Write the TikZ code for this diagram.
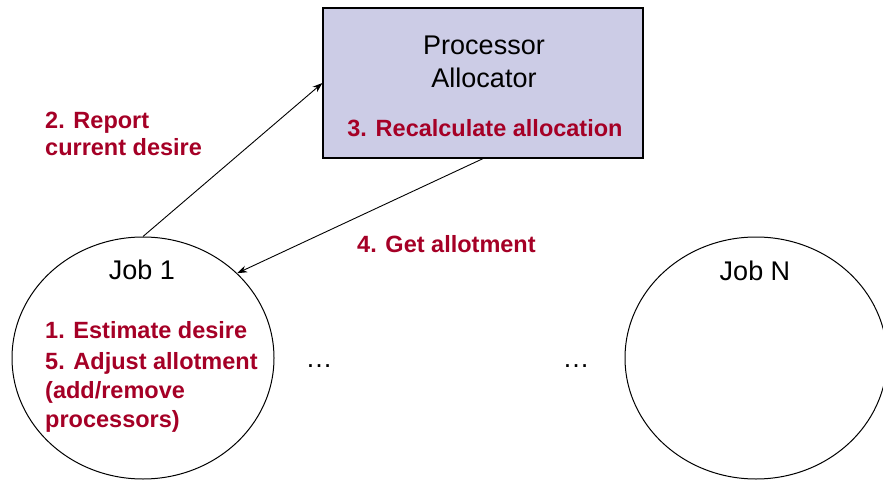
\documentclass[tikz,border=0pt]{standalone}
\usepackage{fontspec}
\setmainfont{Liberation Sans}
\usetikzlibrary{shapes.geometric,arrows.meta}
\definecolor{stepred}{RGB}{165,0,38}
\definecolor{boxfill}{RGB}{204,204,230}
\tikzset{
  blacktext/.style={inner sep=0pt, anchor=base, font=\fontsize{27}{32}\selectfont},
  redtext/.style={inner sep=0pt, anchor=base west, text=stepred, font=\fontsize{23.5}{28}\selectfont\bfseries},
  jobshape/.style={draw, line width=1pt, ellipse, minimum width=262pt, minimum height=242pt, inner sep=0pt},
  conn/.style={line width=0.9pt, -{Stealth[length=10pt,width=7pt]}},
}
\begin{document}
\begin{tikzpicture}[x=1pt,y=-1pt]
\useasboundingbox (0,0) rectangle (883,481);
% processor allocator box
\node[draw, line width=1.2pt, fill=boxfill, minimum width=320pt, minimum height=150pt, inner sep=0pt] (box) at (483,83) {};
\node[blacktext] (proc) at (484,55) {Processor};
\node[blacktext] (alloc) at (484,88) {Allocator};
\node[redtext, anchor=base] (recalc) at (485,137) {3. Recalculate allocation};
% jobs
\node[jobshape] (job1) at (143,358) {};
\node[jobshape] (jobN) at (756,358) {};
\node[blacktext] (job1t) at (142,279) {Job 1};
\node[blacktext] (jobNt) at (755,280) {Job N};
% red labels
\node[redtext] (rep1) at (45,129) {2. Report};
\node[redtext] (rep2) at (45,156) {current desire};
\node[redtext] (get) at (357,252) {4. Get allotment};
\node[redtext] (est) at (45,338) {1. Estimate desire};
\node[redtext] (adj) at (45,369) {5. Adjust allotment};
\node[redtext] (add) at (45,398) {(add/remove};
\node[redtext] (procs) at (45,427) {processors)};
% ellipses
\node[blacktext] (dots1) at (319,367) {…};
\node[blacktext] (dots2) at (576,367) {…};
% connectors
\draw[conn] (job1.north) -- (box.west);
\draw[conn] (box.south) -- (job1.42);
\end{tikzpicture}
\end{document}
